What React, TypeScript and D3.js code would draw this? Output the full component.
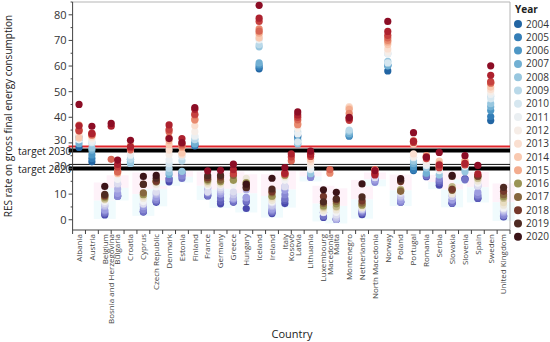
import React from 'react';
import * as d3 from 'd3';

const years = [2004, 2005, 2006, 2007, 2008, 2009, 2010, 2011, 2012, 2013, 2014, 2015, 2016, 2017, 2018, 2019, 2020];

const countries = [
  'Albania', 'Austria', 'Belgium', 'Bosnia and Herzegovina', 'Bulgaria', 'Croatia', 'Cyprus',
  'Czech Republic', 'Denmark', 'Estonia', 'Finland', 'France', 'Germany', 'Greece', 'Hungary',
  'Iceland', 'Ireland', 'Italy', 'Kosovo', 'Latvia', 'Lithuania', 'Luxembourg', 'Macedonia', 'Malta',
  'Montenegro', 'Netherlands', 'North Macedonia', 'Norway', 'Poland', 'Portugal', 'Romania', 'Serbia',
  'Slovakia', 'Slovenia', 'Spain', 'Sweden', 'United Kingdom',
];
// these sit on the boundary between their neighbours
const squeezed = ['Bosnia and Herzegovina', 'Kosovo', 'Macedonia'];

// RES share per year, 2004..2020 (null = no value)
const albania = [28.2, 31.4, 32.1, 29.7, 32.4, 31.4, 31.9, 31.2, 35.2, 33.2, 31.9, 34.6, 36.9, 35.1, 34.7, 36.7, 45.0];
const austria = [22.6, 23.9, 25.3, 27.2, 28.0, 30.0, 30.2, 30.6, 31.6, 32.3, 32.8, 33.0, 33.2, 33.1, 33.8, 33.6, 36.5];
const belgium = [1.9, 2.3, 2.7, 3.4, 3.8, 5.2, 5.7, 6.3, 7.1, 7.7, 8.0, 8.1, 8.7, 9.1, 9.5, 9.9, 13.0];
const bosnia = [null, null, null, null, null, null, null, null, null, null, null, null, null, 23.6, null, 36.5, 37.6];
const bulgaria = [9.4, 9.2, 9.4, 9.1, 10.3, 12.0, 13.9, 14.2, 15.8, 18.9, 18.0, 18.3, 18.8, 18.7, 20.6, 21.6, 23.3];
const croatia = [23.4, 23.7, 22.7, 22.2, 22.0, 23.6, 25.1, 25.4, 26.8, 28.0, 27.8, 29.0, 28.3, 27.3, 28.0, 28.5, 31.0];
const cyprus = [3.1, 3.1, 3.3, 4.0, 5.1, 5.9, 6.2, 6.2, 7.1, 8.4, 9.1, 9.9, 9.8, 10.5, 13.9, 13.8, 16.9];
const czechia = [6.8, 7.1, 7.4, 7.9, 8.7, 9.9, 10.5, 10.9, 12.8, 13.9, 15.1, 15.1, 14.9, 14.8, 15.1, 16.2, 17.3];
const denmark = [14.8, 15.9, 16.0, 17.7, 18.6, 20.0, 21.9, 23.4, 25.5, 27.2, 29.3, 30.9, 32.0, 34.4, 35.2, 37.0, 31.7];
const estonia = [18.4, 17.4, 16.1, 17.1, 18.9, 23.0, 24.6, 25.5, 25.6, 25.4, 26.1, 28.2, 28.6, 29.2, 29.9, 31.7, 30.1];
const finland = [29.2, 28.8, 30.0, 29.6, 31.3, 31.3, 32.4, 32.8, 34.4, 36.7, 38.8, 39.3, 39.0, 40.9, 41.2, 43.1, 43.8];
const france = [9.3, 9.6, 9.5, 10.3, 11.2, 12.2, 12.7, 10.8, 13.3, 13.9, 14.4, 15.0, 15.5, 15.8, 16.4, 17.2, 19.1];
const germany = [6.2, 7.2, 8.5, 10.1, 10.1, 10.9, 11.7, 12.5, 13.5, 13.8, 14.4, 14.9, 14.9, 15.5, 16.7, 17.3, 19.3];
const greece = [6.9, 7.0, 7.2, 8.2, 8.0, 8.5, 9.8, 10.9, 13.7, 15.3, 15.7, 15.7, 15.4, 17.3, 18.0, 19.6, 21.7];
const hungary = [4.4, 6.9, 7.4, 8.6, 8.6, 11.7, 12.7, 14.0, 15.5, 16.2, 14.6, 14.5, 14.4, 13.6, 12.5, 12.6, 13.9];
const iceland = [58.9, 59.6, 60.4, 61.2, 67.5, 68.4, 70.6, 70.2, 71.5, 72.2, 70.9, 72.8, 74.5, 73.6, 77.4, 78.7, 83.7];
const ireland = [2.4, 2.8, 3.1, 3.6, 4.1, 5.1, 5.7, 6.6, 7.0, 7.5, 8.5, 9.1, 9.2, 10.5, 11.0, 12.0, 16.2];
const italy = [6.3, 7.5, 8.3, 9.8, 11.5, 12.8, 13.0, 12.9, 15.4, 16.7, 17.1, 17.5, 17.4, 18.3, 17.8, 18.2, 20.4];
const kosovo = [null, null, null, null, null, null, null, null, null, null, null, null, null, 23.0, 24.5, 25.7, null];
const latvia = [32.8, 32.3, 31.1, 29.6, 29.8, 34.3, 30.4, 33.5, 35.7, 37.0, 38.6, 37.5, 37.1, 39.0, 40.0, 40.9, 42.1];
const lithuania = [17.2, 16.8, 16.9, 16.5, 18.0, 20.0, 19.6, 19.9, 21.4, 22.7, 23.6, 25.8, 25.6, 26.0, 24.7, 25.5, 26.8];
const luxembourg = [0.9, 1.4, 1.5, 2.7, 2.8, 2.9, 2.9, 2.9, 3.1, 3.5, 4.5, 5.0, 5.4, 6.3, 9.1, 7.0, 11.7];
const macedonia = [null, null, null, null, null, null, null, null, null, null, null, null, 18.2, 19.6, null, null, null];
const malta = [0.1, 0.1, 0.2, 0.2, 0.2, 0.2, 1.0, 1.9, 2.9, 3.8, 4.7, 5.1, 6.2, 7.2, 7.9, 8.2, 10.7];
const montenegro = [null, 32.6, 33.0, 33.6, 34.5, 35.0, 40.6, 40.0, 44.0, 44.2, 43.7, 43.1, 41.5, 39.7, 38.8, 39.4, 40.0];
const netherlands = [2.0, 2.5, 2.8, 3.3, 3.6, 4.3, 3.9, 4.5, 4.7, 4.7, 5.5, 5.7, 5.8, 6.5, 7.4, 8.9, 14.0];
const northMacedonia = [15.7, 15.9, 15.5, 14.6, 15.5, 16.9, 16.5, 16.4, 18.1, 18.5, 19.6, 19.5, 18.0, 19.6, 18.1, 17.5, 19.2];
const norway = [58.1, 60.2, 60.4, 60.1, 61.8, 64.8, 61.2, 64.7, 65.5, 66.7, 68.4, 69.4, 70.0, 71.0, 72.0, 73.5, 77.4];
const poland = [6.9, 6.9, 6.9, 6.9, 7.7, 8.7, 9.3, 10.3, 10.9, 11.4, 11.6, 11.9, 11.4, 11.1, 14.9, 15.4, 16.1];
const portugal = [19.2, 19.5, 20.8, 21.9, 22.9, 24.4, 24.2, 24.6, 24.6, 25.7, 29.5, 30.5, 30.9, 30.6, 30.2, 30.6, 34.0];
const romania = [16.8, 17.6, 17.1, 18.2, 20.2, 22.2, 22.8, 21.2, 22.8, 23.9, 24.8, 24.8, 25.0, 24.5, 23.9, 24.3, 24.5];
const serbia = [13.5, 14.5, 15.2, 16.0, 17.5, 21.1, 19.8, 19.2, 20.8, 21.1, 22.9, 21.9, 21.1, 20.6, 20.3, 21.4, 26.3];
const slovakia = [6.4, 6.4, 6.6, 7.8, 7.7, 9.4, 9.1, 10.3, 10.5, 10.1, 11.7, 12.9, 12.0, 11.5, 11.9, 16.9, 17.3];
const slovenia = [16.0, 16.0, 15.6, 19.7, 18.7, 20.7, 21.1, 20.9, 21.6, 23.2, 22.9, 22.9, 22.0, 21.7, 21.4, 22.0, 25.0];
const spain = [8.3, 8.4, 9.2, 9.7, 10.7, 13.0, 13.8, 13.2, 14.3, 15.1, 15.9, 16.2, 17.0, 17.1, 17.0, 17.9, 21.2];
const sweden = [38.7, 40.3, 42.6, 44.1, 45.3, 48.2, 47.2, 48.9, 50.0, 50.8, 51.8, 53.3, 53.4, 53.4, 53.9, 56.4, 60.1];
const unitedKingdom = [1.1, 1.4, 1.6, 1.8, 2.7, 3.3, 3.7, 4.3, 4.6, 5.7, 6.7, 8.4, 9.0, 9.8, 11.1, 12.6, null];

const series = [
  albania, austria, belgium, bosnia, bulgaria, croatia, cyprus, czechia, denmark, estonia, finland,
  france, germany, greece, hungary, iceland, ireland, italy, kosovo, latvia, lithuania, luxembourg,
  macedonia, malta, montenegro, netherlands, northMacedonia, norway, poland, portugal, romania, serbia,
  slovakia, slovenia, spain, sweden, unitedKingdom,
];

const targetValues = [27, 20];
const targetLabels = ['target 2030', 'target 2020'];
const edgeValues = [28.6, 21.6];
const edgeColors = ['#e0262c', '#111'];

const yTicks = [0, 10, 20, 30, 40, 50, 60, 70, 80];
const yMinor = [-5, 5, 15, 25, 35, 45, 55, 65, 75, 85];

const lowYears = [2004, 2008, 2012, 2014, 2016, 2017, 2018, 2019, 2020];
const lowColors = ['#4a4aad', '#9d9de0', '#f2f2f4', '#e8dcc0', '#9a9455', '#86663e', '#74382b', '#4e2a22', '#3b1418'];
const lowLimit = 17.5;

const FONT = '"Open Sans", "DejaVu Sans", sans-serif';

const App = () => {
  const left = 72.6, right = 510, top = 2, bottom = 230;

  const mainCountries = countries.filter((c) => !squeezed.includes(c));
  const x = d3.scaleBand().domain(mainCountries).range([left, right]).padding(0);
  const bw = x.bandwidth();
  const xPos = (c) => {
    if (squeezed.includes(c)) {
      const next = countries[countries.indexOf(c) + 1];
      return x(next);
    }
    return x(c) + bw / 2;
  };

  const y = d3.scaleLinear().domain([-4, 85]).range([bottom, top]);

  const highColor = (yr) => d3.interpolateRdBu(0.9 - 0.85 * (yr - 2004) / 16);
  const lowColor = d3.scaleLinear().domain(lowYears).range(lowColors).interpolate(d3.interpolateRgb);
  const dotColor = (v, yr) => (v < lowLimit ? lowColor(yr) : highColor(yr));
  const legendColor = (yr) => (yr >= 2016 ? lowColor(yr) : highColor(yr));

  const points = [];
  countries.forEach((c, ci) => {
    series[ci].forEach((v, yi) => {
      if (v == null) return;
      points.push({ c, yr: years[yi], v });
    });
  });
  points.sort((a, b) => a.yr - b.yr);

  // faint pink / cyan panels behind the low clusters
  const panels = countries
    .map((c, ci) => {
      const lows = series[ci].filter((v) => v != null && v < lowLimit);
      if (lows.length < 3) return null;
      const lo = d3.min(lows), hi = d3.max(lows);
      return { c, lo, hi, mid: (lo + hi) / 2 };
    })
    .filter(Boolean);

  const edges = mainCountries.map((c) => x(c)).concat([right]);

  return (
    <div style={{ position: 'fixed', left: 0, top: 0 }}>
      <svg width={550} height={342} style={{ display: 'block', background: '#fff' }} fontFamily={FONT}>
        <g>
          {panels.map((p) => (
            <g key={p.c}>
              <rect x={xPos(p.c) - 11} width={22} y={y(p.hi) - 4} height={y(p.mid) - y(p.hi) + 4} fill="#fef2f9" />
              <rect x={xPos(p.c) - 11} width={22} y={y(p.mid)} height={y(p.lo) - y(p.mid) + 4} fill="#f0fbfd" />
            </g>
          ))}
        </g>

        {/* frame */}
        <line x1={left} x2={right} y1={top} y2={top} stroke="#b5b5b5" />
        <line x1={right} x2={right} y1={top} y2={bottom} stroke="#b5b5b5" />

        {/* target lines */}
        {targetValues.map((v, i) => (
          <g key={v}>
            <line x1={left - 4} x2={right} y1={y(edgeValues[i])} y2={y(edgeValues[i])} stroke={edgeColors[i]} strokeWidth={i === 0 ? 2 : 1} />
            <line x1={left - 4} x2={right} y1={y(v)} y2={y(v)} stroke="#000" strokeWidth={4} />
            <text x={18} y={y(v) + 1} dy="0.35em" fontSize={10} fill="#222">{targetLabels[i]}</text>
          </g>
        ))}

        {/* dots */}
        {points.map((p, i) => (
          <circle key={i} cx={xPos(p.c)} cy={y(p.v)} r={3.6} fill={dotColor(p.v, p.yr)} />
        ))}

        {/* y axis */}
        <line x1={left} x2={left} y1={top} y2={bottom} stroke="#444" />
        {yTicks.map((t) => (
          <g key={t} transform={`translate(${left},${y(t)})`}>
            <line x1={-4} x2={0} stroke="#444" />
            <text x={-6} dy={t === 30 || t === 20 ? '0.1em' : '0.35em'} textAnchor="end" fontSize={11} fill="#333">{t}</text>
          </g>
        ))}
        {yMinor.filter((t) => y(t) >= top && y(t) <= bottom).map((t) => (
          <line key={t} x1={left - 2} x2={left} y1={y(t)} y2={y(t)} stroke="#444" />
        ))}
        <text transform={`translate(12,${(top + bottom) / 2}) rotate(-90)`} textAnchor="middle" fontSize={10} fill="#222">
          RES rate on gross final energy consumption
        </text>

        {/* x axis */}
        <line x1={left} x2={right} y1={bottom} y2={bottom} stroke="#444" />
        {edges.map((e, i) => (
          <line key={i} x1={e} x2={e} y1={bottom} y2={bottom + 4} stroke="#444" />
        ))}
        {countries.map((c) => (
          <text key={c} transform={`translate(${xPos(c)},${bottom + 4}) rotate(-90)`} textAnchor="end" dy="0.35em" fontSize={8} fill="#444">
            {c}
          </text>
        ))}
        <text x={292} y={338} textAnchor="middle" fontSize={11} fill="#222">Country</text>

        {/* legend */}
        <text x={515} y={13} fontSize={10} fontWeight="bold" fill="#222">Year</text>
        {years.map((yr, i) => (
          <g key={yr} transform={`translate(518,${24 + i * 13.3})`}>
            <circle r={4} fill={legendColor(yr)} />
            <text x={8} dy="0.35em" fontSize={10} fill="#333">{yr}</text>
          </g>
        ))}
      </svg>
    </div>
  );
};

export default App;
